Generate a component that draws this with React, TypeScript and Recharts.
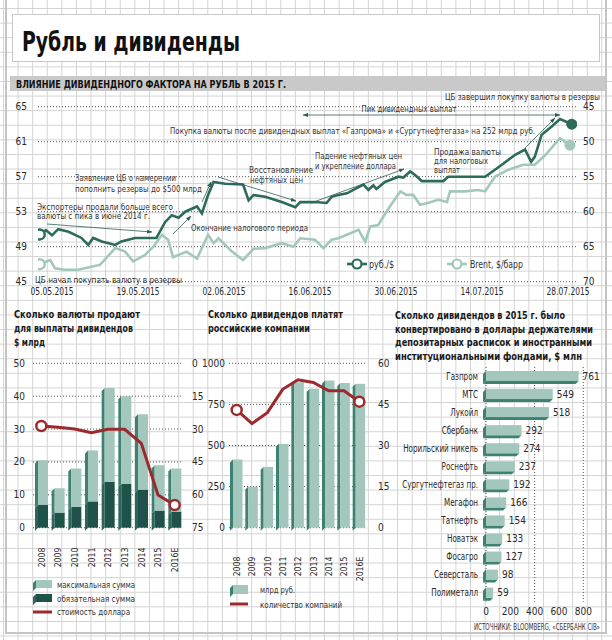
import React from 'react';
import {
  ComposedChart,
  BarChart,
  Bar,
  Line,
  XAxis,
  YAxis,
  CartesianGrid,
  LabelList
} from 'recharts';

const FONT = "'DejaVu Sans Condensed', 'Liberation Sans Narrow', Roboto, sans-serif";

// main chart: days counted from 05.05.2015
const dateTicks = [0, 14, 28, 42, 56, 70, 84];
const dateLabels = ['05.05.2015', '19.05.2015', '02.06.2015', '16.06.2015', '30.06.2015', '14.07.2015', '28.07.2015'];
const rubTicks = [45, 49, 53, 57, 61, 65];
const brentTicks = [45, 50, 55, 60, 65, 70];

const rubDays = [-2, -1, 0, 1, 2.7, 4.8, 5.9, 6.7, 8.1, 10.3, 11.3, 13.5, 17, 18.4, 19.5, 20.6, 21.7, 23.6, 24.4, 25.4, 26.3, 28.2, 31.1, 32, 32.8, 34.7, 37.4, 39.6, 40.4, 42.8, 44.7, 45.5, 46.6, 48, 49.6, 50.7, 51.5, 52.3, 52.8, 54.2, 56.4, 57.2, 58.3, 59.1, 60.2, 63.7, 64.5, 70.5, 72.1, 73.5, 75.4, 77, 78, 78.6, 79.7, 81.3, 82.7, 84.6];
const rubValues = [50.4, 50.9, 50.3, 51.0, 50.7, 50.0, 49.2, 50.0, 49.6, 49.2, 49.6, 50.0, 50.0, 51.8, 52.6, 52.3, 53.0, 53.6, 52.8, 54.9, 56.4, 56.2, 56.1, 54.3, 54.9, 54.7, 54.1, 53.5, 54.1, 54.1, 54.0, 54.7, 54.9, 55.1, 55.7, 56.1, 55.5, 56.0, 55.6, 56.4, 57.0, 56.9, 57.6, 57.2, 56.5, 56.5, 57.0, 57.0, 57.8, 58.5, 59.5, 60.1, 58.7, 59.3, 61.8, 62.7, 63.6, 63.0];

const brentDays = [-2, -0.3, 0.5, 2.1, 4.3, 6.2, 7.8, 10.3, 11.9, 13.2, 15.1, 16.5, 17.9, 18.9, 19.7, 21.9, 23.6, 25.4, 26.3, 27.1, 29.3, 31.1, 32.8, 34.7, 37.4, 39.3, 40.4, 42.8, 44.2, 45.5, 46.6, 48, 49.9, 51, 51.8, 53.1, 54.8, 56.7, 57.7, 58.8, 59.9, 61, 62.9, 64.3, 64.8, 67.2, 69.4, 70.5, 72.1, 74.3, 76.7, 78.6, 80.3, 82.7, 84.3];
const brentValues = [67.5, 66.9, 68.1, 68.3, 68.3, 67.9, 67.6, 65.2, 65.7, 67.1, 66.2, 65.0, 63.3, 64.0, 66.5, 65.7, 66.7, 63.3, 64.5, 63.8, 65.7, 66.9, 65.3, 65.2, 64.5, 65.0, 63.8, 64.0, 65.2, 64.0, 63.8, 63.3, 62.6, 64.3, 62.1, 61.9, 59.5, 57.1, 57.6, 57.6, 59.0, 58.8, 58.3, 58.6, 57.1, 57.1, 56.9, 57.1, 55.0, 54.0, 53.3, 53.3, 51.9, 49.5, 50.5];

// bottom charts
const years = ['2008', '2009', '2010', '2011', '2012', '2013', '2014', '2015', '2016E'];
const fxMax = [20.5, 12, 18, 23.5, 42.5, 40, 34.5, 19, 18];
const fxMandatory = [7, 4.6, 6.3, 8, 14, 13.3, 11.6, 5.2, 4.9];
const usdRate = [28.6, 29.2, 30.0, 31.7, 30.1, 30.1, 36.5, 60.1, 64.7];
const fxTicks = [0, 10, 20, 30, 40, 50];
const rateTicks = [0, 15, 30, 45, 60, 75];

const dividendsRub = [415, 250, 370, 510, 885, 845, 895, 880, 875];
const companiesCount = [43, 38, 42, 50.5, 54, 53, 50, 50, 46];
const divTicks = [0, 250, 500, 750, 1000];
const countTicks = [0, 15, 30, 45, 60];

const companies = ['Газпром', 'МТС', 'Лукойл', 'Сбербанк', 'Норильский никель', 'Роснефть', 'Сургутнефтегаз пр.', 'Мегафон', 'Татнефть', 'Новатэк', 'Фосагро', 'Северсталь', 'Полиметалл'];
const converted = [761, 549, 518, 292, 274, 237, 192, 166, 154, 133, 127, 98, 59];
const convTicks = [0, 200, 400, 600, 800];

const DARK = '#2c6b5b';
const LIGHT = '#a2c8ba';
const BAR_LIGHT = '#a3c7bc';
const BAR_SIDE = '#3d8171';
const BAR_DARK = '#1f5249';
const BAR_DARK_SIDE = '#2b665c';
const RED = '#9c2a2d';
const INK = '#2a2a2a';

const rubleRows = [
  ...rubDays.map((d, i) => ({ d, rub: rubValues[i] })),
  ...brentDays.map((d, i) => ({ d, brent: brentValues[i] }))
].sort((a, b) => a.d - b.d);

const fxRows = years.map((year, i) => ({
  year,
  mandatory: fxMandatory[i],
  extra: fxMax[i] - fxMandatory[i],
  rate: usdRate[i]
}));

const divRows = years.map((year, i) => ({ year, div: dividendsRub[i], count: companiesCount[i] }));

const convRows = companies.map((name, i) => ({ name, value: converted[i] }));

// squeezed text, the reference uses a narrow face
function T({ x, y, w, size = 9.5, weight = 400, anchor = 'start', fill = '#333', children }: any) {
  return (
    <text x={x} y={y} fontSize={size} fontWeight={weight} textAnchor={anchor} fill={fill} fontFamily={FONT} textLength={w} lengthAdjust="spacingAndGlyphs">
      {children}
    </text>
  );
}

function Bar3D(props: any) {
  const { x, y, width, height, fill, side } = props;
  if (!height || height <= 0) return <g />;
  const d = 3;
  return (
    <g>
      <polygon points={`${x},${y + d} ${x + d},${y} ${x + d},${y + height} ${x},${y + height + d}`} fill={side} />
      <rect x={x + d} y={y} width={width - d} height={height} fill={fill} />
    </g>
  );
}

function HBar3D(props: any) {
  const { x, y, width, height, fill, side } = props;
  if (!width || width <= 0) return <g />;
  const d = 3;
  return (
    <g>
      <polygon points={`${x},${y} ${x},${y + height} ${x - d},${y + height + d} ${x - d},${y + d}`} fill={side} />
      <polygon points={`${x},${y + height} ${x + width},${y + height} ${x + width - d},${y + height + d} ${x - d},${y + height + d}`} fill={side} />
      <rect x={x} y={y} width={width} height={height} fill={fill} />
    </g>
  );
}

const endDots = (days: number[], color: string, key: string) => (p: any) => {
  const { cx, cy, payload, index } = p;
  if (cx == null || cy == null || payload[key] == null) return <g key={index} />;
  if (payload.d === days[0]) {
    return <circle key={index} cx={cx} cy={cy} r={5} fill="#fff" stroke={color} strokeWidth={2.5} />;
  }
  if (payload.d === days[days.length - 1]) {
    return <circle key={index} cx={cx} cy={cy} r={5.5} fill={color} />;
  }
  return <g key={index} />;
};

const redDots = (p: any) => {
  const { cx, cy, index } = p;
  if (index === 0 || index === years.length - 1) {
    return <circle key={index} cx={cx} cy={cy} r={5} fill="#fff" stroke={RED} strokeWidth={2.5} />;
  }
  return <g key={index} />;
};

const YearTick = (props: any) => {
  const { x, y, payload } = props;
  return (
    <text x={x} y={y} dy="0.35em" transform={`rotate(-90 ${x} ${y})`} textAnchor="end" fontSize={9.5} fill={INK} fontFamily={FONT} textLength={payload.value.length * 4.9} lengthAdjust="spacingAndGlyphs">
      {payload.value}
    </text>
  );
};

const DateTick = (props: any) => {
  const { x, y, payload } = props;
  return (
    <text x={x} y={y} dy="0.71em" textAnchor="middle" fontSize={10.5} fill={INK} fontFamily={FONT} textLength={43} lengthAdjust="spacingAndGlyphs">
      {dateLabels[dateTicks.indexOf(payload.value)]}
    </text>
  );
};

const NameTick = (props: any) => {
  const { x, y, payload } = props;
  return (
    <g transform={`translate(${x},${y}) scale(0.8,1)`}>
      <text x={0} y={0} dy="0.35em" textAnchor="end" fontSize={10} fill={INK} fontFamily={FONT}>
        {payload.value}
      </text>
    </g>
  );
};

const tickStyle = { fontSize: 10, fill: INK, fontFamily: FONT };

function RubleChart() {
  return (
    <ComposedChart width={612} height={310} data={rubleRows} margin={{ top: 106.7, right: 5, bottom: 8.3, left: 8 }}>
      <CartesianGrid yAxisId="rub" vertical={false} stroke="#555" strokeDasharray="1 2" />
      <XAxis
        type="number"
        dataKey="d"
        domain={[-2.28, 85.46]}
        ticks={dateTicks}
        axisLine={false}
        tickLine={false}
        tickSize={0}
        tickMargin={6}
        height={20}
        tick={<DateTick />}
        allowDataOverflow
      />
      <YAxis yAxisId="rub" domain={[45, 65]} ticks={rubTicks} width={30} axisLine={false} tickLine={false} tickSize={0} tickMargin={11} tick={tickStyle} />
      <YAxis yAxisId="brent" orientation="right" reversed domain={[45, 70]} ticks={brentTicks} width={30} axisLine={false} tickLine={false} tickSize={0} tickMargin={6} tick={tickStyle} />
      <Line yAxisId="brent" dataKey="brent" stroke={LIGHT} strokeWidth={2.6} connectNulls dot={endDots(brentDays, LIGHT, 'brent')} activeDot={false} isAnimationActive={false} />
      <Line yAxisId="rub" dataKey="rub" stroke={DARK} strokeWidth={2.6} connectNulls dot={endDots(rubDays, DARK, 'rub')} activeDot={false} isAnimationActive={false} />
    </ComposedChart>
  );
}

function FxChart() {
  return (
    <ComposedChart width={210} height={290} data={fxRows} margin={{ top: 63.3, right: 0, bottom: 2.3, left: 8 }}>
      <CartesianGrid yAxisId="fx" vertical={false} stroke="#555" strokeDasharray="1 2" />
      <XAxis dataKey="year" axisLine={false} tickLine={false} tickSize={0} tickMargin={20} height={60} interval={0} tick={<YearTick />} />
      <YAxis yAxisId="fx" domain={[0, 50]} ticks={fxTicks} width={25} axisLine={false} tickLine={false} tickSize={0} tickMargin={8} tick={tickStyle} />
      <YAxis yAxisId="rate" orientation="right" reversed domain={[0, 75]} ticks={rateTicks} width={27} axisLine={false} tickLine={false} tickSize={0} tickMargin={9} tick={tickStyle} />
      <Bar yAxisId="fx" dataKey="mandatory" stackId="a" barSize={13} fill={BAR_DARK} shape={(p: any) => <Bar3D {...p} side={BAR_DARK_SIDE} />} isAnimationActive={false} />
      <Bar yAxisId="fx" dataKey="extra" stackId="a" barSize={13} fill={BAR_LIGHT} shape={(p: any) => <Bar3D {...p} side={BAR_SIDE} />} isAnimationActive={false} />
      <Line yAxisId="rate" dataKey="rate" stroke={RED} strokeWidth={3} dot={redDots} activeDot={false} isAnimationActive={false} />
    </ComposedChart>
  );
}

function DividendChart() {
  return (
    <ComposedChart width={200} height={290} data={divRows} margin={{ top: 63.3, right: 0, bottom: 2.3, left: 6 }}>
      <CartesianGrid yAxisId="div" vertical={false} stroke="#555" strokeDasharray="1 2" />
      <XAxis dataKey="year" axisLine={false} tickLine={false} tickSize={0} tickMargin={29} height={60} interval={0} tick={<YearTick />} />
      <YAxis yAxisId="div" domain={[0, 1000]} ticks={divTicks} width={28} axisLine={false} tickLine={false} tickSize={0} tickMargin={4} tick={tickStyle} />
      <YAxis yAxisId="count" orientation="right" domain={[0, 60]} ticks={countTicks} width={28} axisLine={false} tickLine={false} tickSize={0} tickMargin={11} tick={tickStyle} />
      <Bar yAxisId="div" dataKey="div" barSize={12.5} fill={BAR_LIGHT} shape={(p: any) => <Bar3D {...p} side={BAR_SIDE} />} isAnimationActive={false} />
      <Line yAxisId="count" dataKey="count" stroke={RED} strokeWidth={3} dot={redDots} activeDot={false} isAnimationActive={false} />
    </ComposedChart>
  );
}

function ConvertedChart() {
  return (
    <BarChart layout="vertical" width={242} height={330} data={convRows} margin={{ top: 67, right: 28.7, bottom: 8.3, left: 6 }}>
      <CartesianGrid horizontal={false} stroke="#555" strokeDasharray="1 2" />
      <XAxis type="number" domain={[0, 800]} ticks={convTicks} axisLine={false} tickLine={false} tickSize={0} tickMargin={6} height={20} tick={tickStyle} />
      <YAxis type="category" dataKey="name" width={110} axisLine={false} tickLine={false} tickSize={0} tickMargin={8} interval={0} tick={<NameTick />} />
      <Bar dataKey="value" barSize={10} fill={BAR_LIGHT} shape={(p: any) => <HBar3D {...p} side={BAR_SIDE} />} isAnimationActive={false}>
        <LabelList dataKey="value" position="right" offset={4} style={{ fontSize: 10, fill: INK, fontFamily: FONT }} />
      </Bar>
    </BarChart>
  );
}

function Overlay() {
  const arrow = { stroke: '#2f5d54', strokeWidth: 0.8, fill: 'none', markerEnd: 'url(#ah)' };
  return (
    <svg width={612} height={640} style={{ position: 'absolute', left: 0, top: 0, pointerEvents: 'none' }}>
      <defs>
        <marker id="ah" viewBox="0 0 10 10" refX="9" refY="5" markerWidth="7" markerHeight="7" orient="auto-start-reverse">
          <path d="M0,1.5 L10,5 L0,8.5 z" fill="#2f5d54" />
        </marker>
      </defs>

      <T x={37} y={210} w={136}>Экспортеры продали больше всего</T>
      <T x={37} y={219} w={113}>валюты с пика в июне 2014 г.</T>
      <line x1={47} y1={224} x2={152} y2={232} {...arrow} />

      <T x={75} y={181} w={101}>Заявление ЦБ о намерении</T>
      <T x={75} y={192} w={127}>пополнить резервы до $500 млрд</T>
      <line x1={202} y1={202} x2={211} y2={182} {...arrow} />

      <T x={191} y={231} w={117}>Окончание налогового периода</T>
      <line x1={173} y1={234} x2={191} y2={216} {...arrow} />

      <T x={249} y={173} w={64}>Восстановление</T>
      <T x={250} y={183} w={53}>нефтяных цен</T>
      <line x1={218} y1={177} x2={296} y2={201} {...arrow} />

      <T x={315} y={159} w={87}>Падение нефтяных цен</T>
      <T x={315} y={169} w={81}>и укрепление доллара</T>
      <line x1={311} y1={203} x2={404} y2={169} {...arrow} />

      <T x={434} y={155} w={67}>Продажа валюты</T>
      <T x={434} y={164} w={54}>для налоговых</T>
      <T x={434} y={173} w={26}>выплат</T>

      <T x={170} y={134} w={365}>Покупка валюты после дивидендных выплат «Газпрома» и «Сургутнефтегаза» на 252 млрд руб.</T>
      <line x1={525} y1={148} x2={555} y2={118} {...arrow} />

      <T x={409} y={112} w={95} anchor="middle">Пик дивидендных выплат</T>
      <line x1={303} y1={115} x2={560} y2={115} {...arrow} markerStart="url(#ah)" />

      <T x={600} y={100} w={155} anchor="end">ЦБ завершил покупку валюты в резервы</T>
      <T x={35} y={283} w={147}>ЦБ начал покупать валюту в резервы</T>

      <line x1={347} y1={264} x2={367} y2={264} stroke={DARK} strokeWidth={2.6} />
      <circle cx={357} cy={264} r={4.5} fill="#fff" stroke={DARK} strokeWidth={2.2} />
      <T x={369} y={268} w={25} size={11}>руб./$</T>
      <line x1={447} y1={264} x2={467} y2={264} stroke={LIGHT} strokeWidth={2.6} />
      <circle cx={457} cy={264} r={4.5} fill="#fff" stroke={LIGHT} strokeWidth={2.2} />
      <T x={470} y={268} w={53} size={11}>Brent, $/барр</T>

      <T x={14} y={318} w={126} size={11} weight={700} fill="#1a1a1a">Сколько валюты продают</T>
      <T x={14} y={332} w={119} size={11} weight={700} fill="#1a1a1a">для выплаты дивидендов</T>
      <T x={14} y={346} w={31} size={11} weight={700} fill="#1a1a1a">$ млрд</T>

      <T x={208} y={318} w={135} size={11} weight={700} fill="#1a1a1a">Сколько дивидендов платят</T>
      <T x={208} y={332} w={102} size={11} weight={700} fill="#1a1a1a">российские компании</T>

      <T x={395} y={319} w={170} size={11} weight={700} fill="#1a1a1a">Сколько дивидендов в 2015 г. было</T>
      <T x={395} y={333} w={198} size={11} weight={700} fill="#1a1a1a">конвертировано в доллары держателями</T>
      <T x={395} y={346} w={197} size={11} weight={700} fill="#1a1a1a">депозитарных расписок и иностранными</T>
      <T x={395} y={360} w={187} size={11} weight={700} fill="#1a1a1a">институциональными фондами, $ млн</T>

      <polygon points="33,583 36,580 52,580 52,588 36,588 33,591" fill={BAR_SIDE} />
      <rect x={36} y={580} width={16} height={8} fill={BAR_LIGHT} />
      <T x={57} y={588} w={78}>максимальная сумма</T>
      <polygon points="33,597 36,594 52,594 52,602 36,602 33,605" fill={BAR_DARK_SIDE} />
      <rect x={36} y={594} width={16} height={8} fill={BAR_DARK} />
      <T x={57} y={602} w={78}>обязательная сумма</T>
      <line x1={33} y1={612} x2={52} y2={612} stroke={RED} strokeWidth={3} />
      <T x={57} y={615} w={73}>стоимость доллара</T>

      <polygon points="230,588 233,585 248,585 248,594 233,594 230,597" fill={BAR_SIDE} />
      <rect x={233} y={585} width={15} height={9} fill={BAR_LIGHT} />
      <T x={260} y={593} w={35}>млрд руб.</T>
      <line x1={230} y1={604} x2={248} y2={604} stroke={RED} strokeWidth={3} />
      <T x={260} y={608} w={82}>количество компаний</T>

      <T x={600} y={630} w={126} size={8} anchor="end">ИСТОЧНИКИ: BLOOMBERG, «СБЕРБАНК CIB»</T>
    </svg>
  );
}

export default function App() {
  return (
    <div
      style={{
        position: 'absolute',
        left: 0,
        top: 0,
        width: 612,
        height: 640,
        overflow: 'hidden',
        backgroundColor: '#fff',
        backgroundImage:
          'linear-gradient(#d3d3d3 1px, transparent 1px), linear-gradient(90deg, #d3d3d3 1px, transparent 1px)',
        backgroundSize: '14.6px 14.6px',
        backgroundPosition: '3px 8px',
        fontFamily: FONT
      }}
    >
      <div style={{ position: 'absolute', left: 5, top: 0, width: 602, height: 634, borderLeft: '2px solid #c4c4c4', borderRight: '2px solid #c4c4c4', borderBottom: '2px solid #c4c4c4', boxSizing: 'border-box' }} />
      <div style={{ position: 'absolute', left: 12, top: 14, width: 588, height: 48, background: '#fff', border: '1px solid #c8c8c8', boxSizing: 'border-box' }} />
      <div style={{ position: 'absolute', left: 10, top: 76, width: 595, height: 15, background: '#c9c9c9' }} />
      <svg width={612} height={100} style={{ position: 'absolute', left: 0, top: 0 }}>
        <T x={22} y={51} w={218} size={27} weight={700} fill="#111">Рубль и дивиденды</T>
        <T x={16} y={87.5} w={270} size={11} weight={700} fill="#111">ВЛИЯНИЕ ДИВИДЕНДНОГО ФАКТОРА НА РУБЛЬ В 2015 Г.</T>
      </svg>
      <div style={{ position: 'absolute', left: 0, top: 0 }}>
        <RubleChart />
      </div>
      <div style={{ position: 'absolute', left: 0, top: 300 }}>
        <FxChart />
      </div>
      <div style={{ position: 'absolute', left: 195, top: 300 }}>
        <DividendChart />
      </div>
      <div style={{ position: 'absolute', left: 370, top: 300 }}>
        <ConvertedChart />
      </div>
      <Overlay />
    </div>
  );
}
